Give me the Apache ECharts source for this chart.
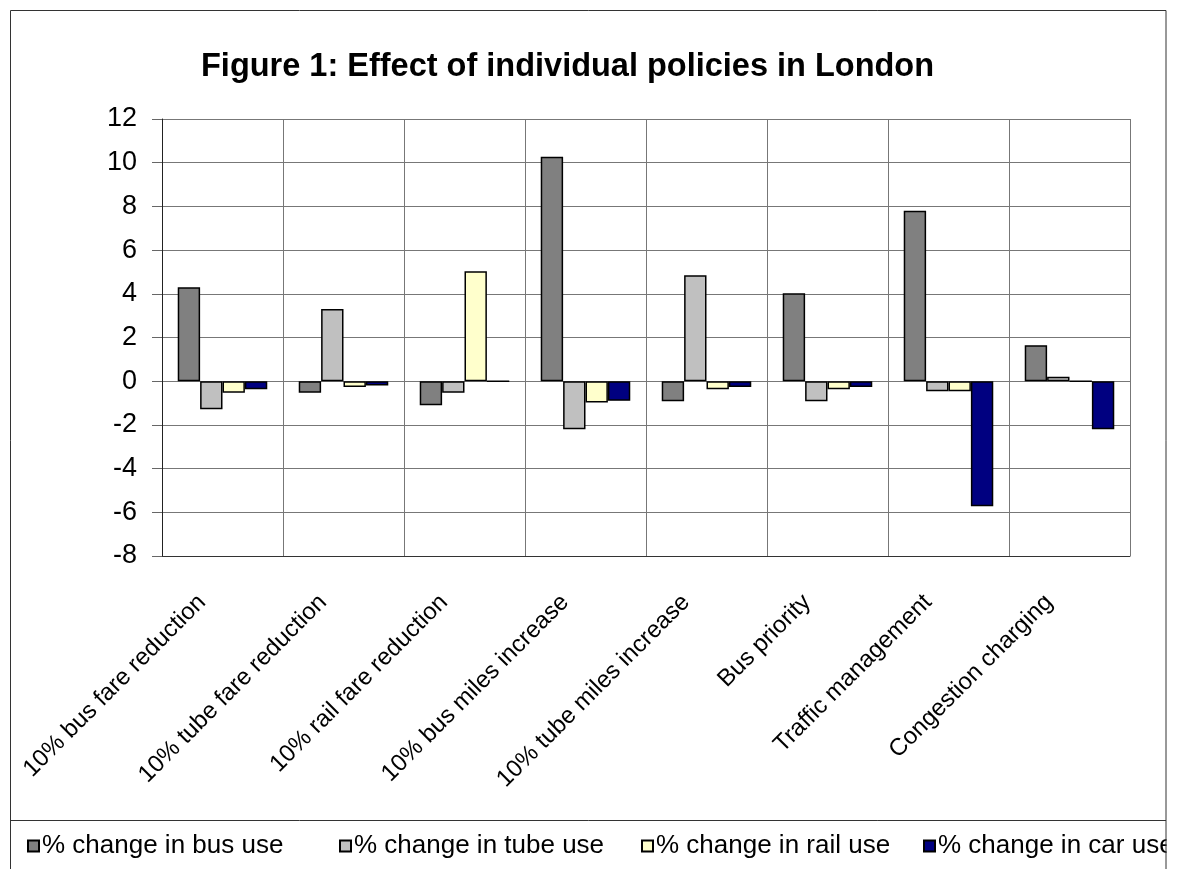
<!DOCTYPE html>
<html>
<head>
<meta charset="utf-8">
<script src="https://cdn.jsdelivr.net/npm/echarts@6/dist/echarts.min.js"></script>
<style>html,body{margin:0;padding:0;background:#fff;}#c{width:1183px;height:869px;}</style>
</head>
<body>
<div id="c"></div>
<script>
const titleText = 'Figure 1: Effect of individual policies in London';
const categories = ['10% bus fare reduction','10% tube fare reduction','10% rail fare reduction','10% bus miles increase','10% tube miles increase','Bus priority','Traffic management','Congestion charging'];
const seriesNames = ['% change in bus use','% change in tube use','% change in rail use','% change in car use'];
const busUse  = [4.3, -0.53, -1.1, 10.27, -0.92, 4.03, 7.8, 1.65];
const tubeUse = [-1.28, 3.3, -0.53, -2.2, 4.85, -0.92, -0.46, 0.2];
const railUse = [-0.53, -0.27, 5.03, -0.97, -0.37, -0.37, -0.46, 0];
const carUse  = [-0.37, -0.2, 0, -0.9, -0.26, -0.26, -5.72, -2.2];
const yMin = -8, yMax = 12, yStep = 2;

const FONT = "'Liberation Sans', Arial, sans-serif";
const colors = ['#808080', '#C0C0C0', '#FFFFCC', '#000080'];
const values = [busUse, tubeUse, railUse, carUse];
const legendLefts = [22, 334, 636, 918];

const chart = echarts.init(document.getElementById('c'), null, {renderer: 'canvas'});
const option = {
  backgroundColor: '#fff',
  animation: false,
  textStyle: {fontFamily: FONT, color: '#000'},
  title: {
    text: titleText, left: 196, top: 46,
    textStyle: {fontFamily: FONT, fontSize: 32.5, fontWeight: 'bold', color: '#000'}
  },
  legend: seriesNames.map((n, i) => ({
    data: [n], left: legendLefts[i], top: 828, itemWidth: 11, itemHeight: 11, itemGap: 0,
    icon: 'rect', selectedMode: false,
    textStyle: {fontFamily: FONT, fontSize: 26, color: '#000', padding: [0, 0, 0, -2]}
  })),
  grid: {left: 162, right: 53, top: 119, bottom: 313, containLabel: false},
  xAxis: {
    type: 'category', data: categories, boundaryGap: true,
    axisLine: {show: true, onZero: false, lineStyle: {color: '#333', width: 1}},
    axisTick: {show: false},
    splitLine: {show: true, interval: 0, lineStyle: {color: '#777', width: 1}},
    axisLabel: {interval: 0, rotate: 45, margin: 22, fontFamily: FONT, fontSize: 24, color: '#000', padding: [0, 29, 0, 0]}
  },
  yAxis: {
    type: 'value', min: yMin, max: yMax, interval: yStep,
    axisLine: {show: true, lineStyle: {color: '#222', width: 1}},
    axisTick: {show: true, length: 10, lineStyle: {color: '#666'}},
    splitLine: {show: true, lineStyle: {color: '#777', width: 1}},
    axisLabel: {margin: 25, fontFamily: FONT, fontSize: 27, color: '#000'}
  },
  series: seriesNames.map((n, i) => ({
    name: n, type: 'bar', data: values[i],
    barGap: '0%', barCategoryGap: '26%',
    itemStyle: {color: colors[i], borderColor: '#000', borderWidth: 1.5}
  })),
  graphic: [
    {type: 'rect', z: 100, silent: true, shape: {x: 1166.5, y: 815, width: 30, height: 60}, style: {fill: '#fff', stroke: null}},
    {type: 'rect', z: 101, silent: true, shape: {x: 10.5, y: 10.5, width: 1155.5, height: 900}, style: {fill: 'none', stroke: '#333', lineWidth: 1}},
    {type: 'line', z: 101, silent: true, shape: {x1: 10.5, y1: 820.5, x2: 1166, y2: 820.5}, style: {stroke: '#333', lineWidth: 1}}
  ]
};
chart.setOption(option);
</script>
</body>
</html>
